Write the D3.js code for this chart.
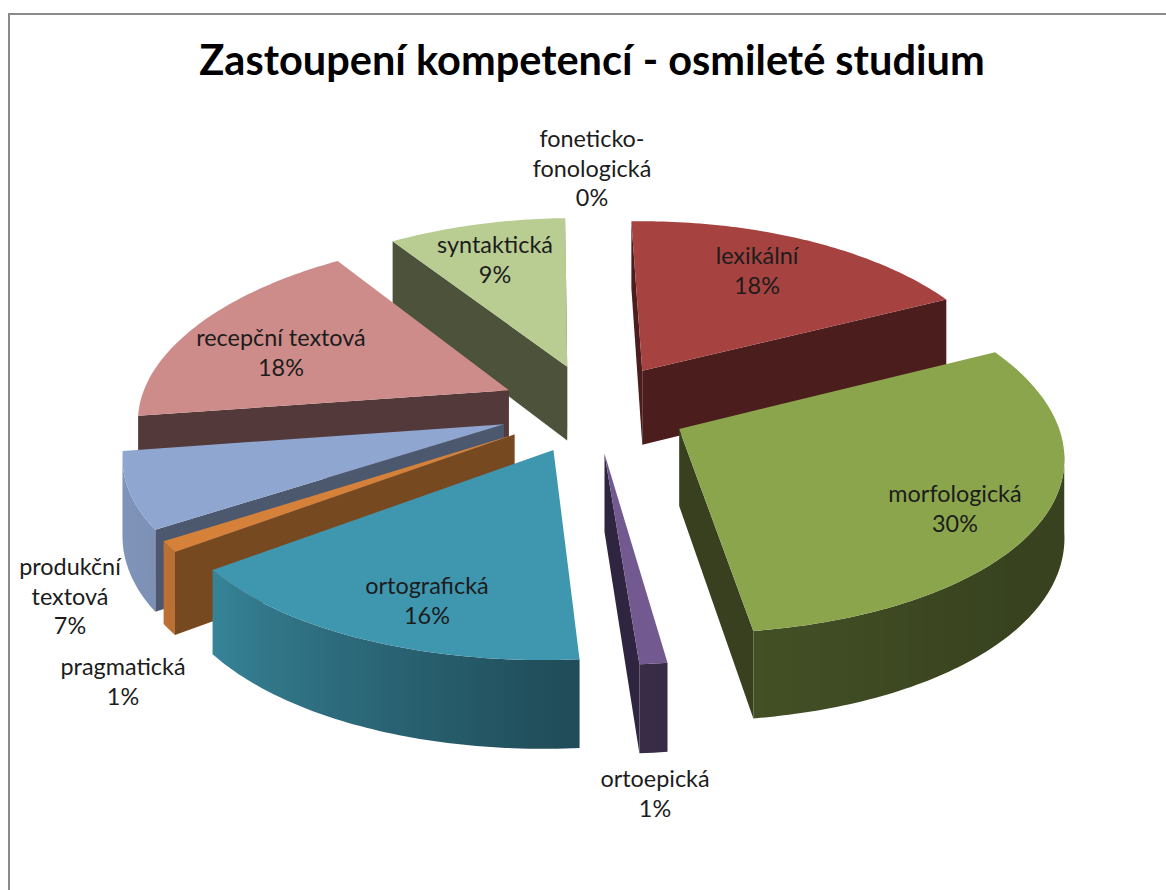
<!DOCTYPE html>
<html>
<head>
<meta charset="utf-8">
<script src="https://cdn.jsdelivr.net/npm/d3@7"></script>
<style>
  html, body { margin:0; padding:0; background:#fff; overflow:hidden; }
  text { font-family:Lato, "Open Sans", sans-serif; }
</style>
</head>
<body>
<div id="dataViz"></div>
<script>
/* chart data, clockwise from 12 o'clock */
const names = ["foneticko-fonologická", "lexikální", "morfologická", "ortoepická", "ortografická", "pragmatická", "produkční textová", "recepční textová", "syntaktická"];
const shares = [0, 18, 30, 1, 16, 1, 7, 18, 9];
const labelLines = [["foneticko-", "fonologická"], ["lexikální"], ["morfologická"], ["ortoepická"], ["ortografická"], ["pragmatická"], ["produkční", "textová"], ["recepční textová"], ["syntaktická"]];
const topColors = ["#4f81bd", "#a64340", "#8ba54d", "#72598f", "#3f97af", "#d6813a", "#8fa6d0", "#cd8c8a", "#b9cd93"];
const sideColors = ["#2f4d71", "#4c1d1d", "#384020", "#2f2540", "#22505f", "#774920", "#4c586e", "#53393a", "#4c533a"];

/* label anchors, the value line sits under the name */
const labelX = [592, 757, 955, 655, 427, 123, 70, 281, 495];
const labelY = [139, 256, 494, 779, 586, 667, 567, 338, 245];

/* how dark the rim gets, by angle in degrees */
const rimShade = d3.scaleLinear().domain([65, 130, 172, 180, 234, 262]).range([0.40, 0.40, 0.48, 0.52, 0.87, 0.90]).clamp(true);

/* 3d pie setup */
const cx = 594, cy = 408, R = 372, Rk = 175, persp = 0.117, perspX = 0.14, shear = 5, tilt = 4, depth = 76, explode = 0.255;
const camY = -1 / persp;

const svg = d3.select("#dataViz").append("svg").attr("width", 1166).attr("height", 890);
const defs = svg.append("defs");

/* frame, only left and top are in the picture */
svg.append("path").attr("d", "M9,890V14H1166").attr("fill", "none").attr("stroke", "#8a8a8a").attr("stroke-width", 2);

svg.append("text").attr("x", 592).attr("y", 75).attr("text-anchor", "middle")
   .attr("font-size", 41.5).attr("font-weight", 700).attr("fill", "#000")
   .text("Zastoupení kompetencí - osmileté studium");

/* ground point to screen */
function project(X, Y, z) {
    const w = 1 + persp * Y;
    const wx = 1 + perspX * Y;
    return [cx + X * R / wx - shear * Y, cy - Y * Rk / w - tilt * X + z * depth / w];
}

const pie = d3.pie().sort(null).value((d, i) => shares[i]);
const slices = pie(names).map((s, i) => {
    const mid = (s.startAngle + s.endAngle) / 2;
    return { i: i, a0: s.startAngle, a1: s.endAngle, mid: mid,
             ox: explode * Math.sin(mid), oy: explode * Math.cos(mid) };
}).filter(s => s.a1 > s.a0);

/* back slices first */
slices.sort((a, b) => b.oy - a.oy);

const line = d3.line();

slices.forEach(s => {
    const g = svg.append("g");
    const n = Math.max(4, Math.ceil((s.a1 - s.a0) * 60));
    const angles = d3.range(n + 1).map(k => s.a0 + (s.a1 - s.a0) * k / n);
    const rimPt = (a, z) => project(s.ox + Math.sin(a), s.oy + Math.cos(a), z);
    const apex = z => project(s.ox, s.oy, z);

    /* radial walls: keep those turned to the camera */
    [[s.a0, -1], [s.a1, 1]].forEach(([a, side]) => {
        const nx = side * Math.cos(a), ny = -side * Math.sin(a);
        if ((0 - s.ox) * nx + (camY - s.oy) * ny > 0) {
            g.append("path")
             .attr("d", line([apex(0), rimPt(a, 0), rimPt(a, 1), apex(1)]) + "Z")
             .attr("fill", sideColors[s.i]);
        }
    });

    /* rim: one shape with a sideways gradient */
    const front = angles.filter(a => (0 - s.ox - Math.sin(a)) * Math.sin(a) + (camY - s.oy - Math.cos(a)) * Math.cos(a) > 0);
    if (front.length > 1) {
        const x0 = rimPt(front[0], 0)[0], x1 = rimPt(front[front.length - 1], 0)[0];
        const base = d3.rgb(topColors[s.i]);
        const grad = defs.append("linearGradient").attr("id", "rim" + s.i)
            .attr("gradientUnits", "userSpaceOnUse")
            .attr("x1", x0).attr("x2", x1).attr("y1", 0).attr("y2", 0);
        front.forEach(a => {
            const f = rimShade(a * 180 / Math.PI);
            grad.append("stop")
                .attr("offset", (rimPt(a, 0)[0] - x0) / (x1 - x0))
                .attr("stop-color", d3.rgb(base.r * f, base.g * f, base.b * f).formatHex());
        });
        g.append("path")
         .attr("d", line(front.map(a => rimPt(a, 0)).concat(front.slice().reverse().map(a => rimPt(a, 1)))) + "Z")
         .attr("fill", "url(#rim" + s.i + ")");
    }

    /* top face */
    g.append("path")
     .attr("d", line([apex(0)].concat(angles.map(a => rimPt(a, 0)))) + "Z")
     .attr("fill", topColors[s.i]);
});

/* data labels */
names.forEach((name, i) => {
    const t = svg.append("text").attr("text-anchor", "middle").attr("font-size", 23.4).attr("fill", "#1c1c1c");
    labelLines[i].concat(shares[i] + "%").forEach((txt, k) => {
        t.append("tspan").attr("x", labelX[i]).attr("y", labelY[i] + k * 29.5 + 8).text(txt);
    });
});
</script>
</body>
</html>
